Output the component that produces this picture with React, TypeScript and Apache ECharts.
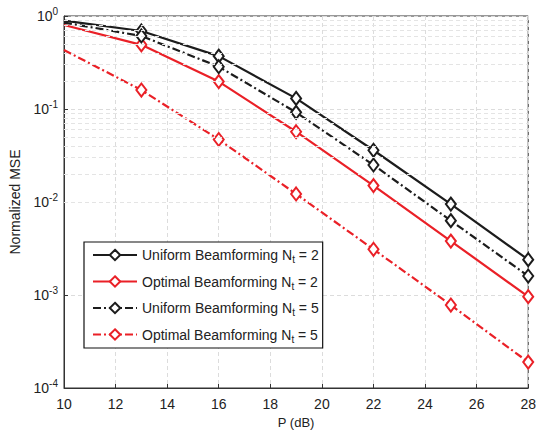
import React, { useEffect, useRef } from "react";
import * as echarts from "echarts";

const pDb = [10, 13, 16, 19, 22, 25, 28];
const uniformNt2 = [0.89, 0.69, 0.37, 0.13, 0.036, 0.0095, 0.0024];
const optimalNt2 = [0.8, 0.49, 0.197, 0.057, 0.015, 0.0038, 0.00096];
const uniformNt5 = [0.85, 0.61, 0.285, 0.092, 0.025, 0.0063, 0.0016];
const optimalNt5 = [0.43, 0.16, 0.047, 0.0122, 0.0031, 0.00078, 0.00019];
const xTicks = [10, 12, 14, 16, 18, 20, 22, 24, 26, 28];
const minorY = [2, 3, 4, 5, 6, 7, 8, 9].flatMap((m) => [m * 1e-4, m * 1e-3, m * 1e-2, m * 1e-1]);

const BLACK = "#1c1c1c";
const RED = "#ea2027";
const DASHDOT = [8, 3, 2, 3];
const FONT = "Liberation Sans, Arial, sans-serif";

const names = [
  "Uniform Beamforming N_t = 2",
  "Optimal Beamforming N_t = 2",
  "Uniform Beamforming N_t = 5",
  "Optimal Beamforming N_t = 5",
];

function mkSeries(name: string, vals: number[], color: string, dash: any) {
  return {
    name,
    type: "line",
    data: pDb.map((x, i) => ({
      value: [x, vals[i]],
      symbol: i === 0 ? "none" : "diamond",
    })),
    symbol: "diamond",
    symbolSize: [10, 13],
    showSymbol: true,
    lineStyle: { color, width: 2.2, type: dash },
    itemStyle: { color: "#fff", borderColor: color, borderWidth: 2 },
    z: 3,
  };
}

export default function App() {
  const ref = useRef<HTMLDivElement>(null);
  useEffect(() => {
    const chart = echarts.init(ref.current!, null, { renderer: "svg" });
    chart.setOption({
      animation: false,
      backgroundColor: "#fff",
      textStyle: { fontFamily: FONT },
      grid: { left: 60, right: 9, top: 16, bottom: 44, show: true, borderColor: "#333", borderWidth: 1 },
      legend: {
        data: names,
        orient: "vertical",
        left: 84,
        top: 242,
        backgroundColor: "#fff",
        borderColor: "#111",
        borderWidth: 1.2,
        borderRadius: 0,
        padding: [6, 4, 4, 8],
        itemWidth: 44,
        itemHeight: 13,
        itemGap: 10,
        formatter: (n: string) => n.replace("N_t", "N{sub|t}"),
        textStyle: {
          fontSize: 14,
          color: "#222",
          fontFamily: FONT,
          rich: {
            sub: { fontSize: 10, verticalAlign: "bottom", padding: [9, 0, 0, 0], fontFamily: FONT, color: "#222" },
          },
        },
      },
      xAxis: {
        type: "value",
        min: 10,
        max: 28,
        interval: 2,
        name: "P (dB)",
        nameLocation: "middle",
        nameGap: 28,
        nameTextStyle: { fontSize: 13, color: "#222" },
        axisLine: { lineStyle: { color: "#333" } },
        axisTick: { inside: true, length: 4, lineStyle: { color: "#333" } },
        axisLabel: { fontSize: 14, color: "#222", margin: 9, formatter: (v: number) => (xTicks.includes(v) ? String(v) : "") },
        splitLine: { show: true, lineStyle: { color: "#dcdcdc", type: [4, 3] } },
      },
      yAxis: {
        type: "log",
        logBase: 10,
        min: 1e-4,
        max: 1,
        name: "Normalized MSE",
        nameLocation: "middle",
        nameGap: 42,
        nameTextStyle: { fontSize: 14, color: "#222" },
        axisLine: { lineStyle: { color: "#333" } },
        axisTick: { inside: true, length: 4, lineStyle: { color: "#333" } },
        axisLabel: {
          fontSize: 14,
          color: "#222",
          margin: 6,
          formatter: (v: number) => `{b|10}{s|${Math.round(Math.log10(v))}}`,
          rich: {
            b: { fontSize: 14, color: "#222", fontFamily: FONT },
            s: { fontSize: 10, color: "#222", fontFamily: FONT, verticalAlign: "top", padding: [0, 0, 9, 0] },
          },
        },
        splitLine: { show: true, lineStyle: { color: "#dcdcdc", type: [4, 3] } },
      },
      series: [
        {
          name: "minor",
          type: "line",
          data: [],
          z: 1,
          markLine: {
            silent: true,
            symbol: "none",
            label: { show: false },
            lineStyle: { color: "#e4e4e4", type: [4, 3], width: 1 },
            data: minorY.map((y) => ({ yAxis: y })),
            animation: false,
          },
        },
        mkSeries(names[0], uniformNt2, BLACK, "solid"),
        mkSeries(names[1], optimalNt2, RED, "solid"),
        mkSeries(names[2], uniformNt5, BLACK, DASHDOT),
        mkSeries(names[3], optimalNt5, RED, DASHDOT),
      ],
    });
    return () => chart.dispose();
  }, []);
  return <div ref={ref} style={{ position: "fixed", left: 0, top: 0, width: 539, height: 434 }} />;
}
